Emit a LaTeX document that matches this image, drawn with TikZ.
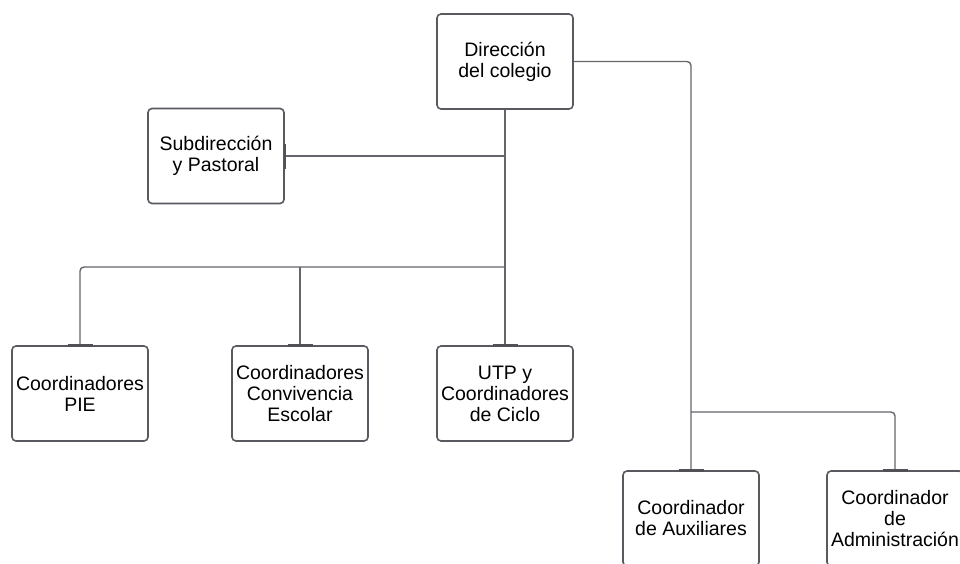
\documentclass[tikz,border=0pt]{standalone}
\usepackage{fontspec}
\setmainfont{Liberation Sans}
\begin{document}
\begin{tikzpicture}[x=1pt,y=-1pt,
  box/.style={draw=boxc, line width=1.6pt, rounded corners=4pt, fill=white,
    minimum width=136pt, minimum height=95pt, inner sep=0pt, align=center,
    font=\fontsize{19.5}{21}\selectfont, text=black},
  conn/.style={draw=linec, line width=1.4pt, rounded corners=4pt},
  endbar/.style={draw=barc, line width=2.6pt}]
\definecolor{boxc}{RGB}{88,90,96}
\definecolor{linec}{RGB}{100,102,108}
\definecolor{barc}{RGB}{80,82,88}
\clip (0,0) rectangle (960,563);
\fill[white] (0,0) rectangle (960,563);

\node[box] (dir) at (505,61.5) {Dirección\\del colegio};
\node[box] (sub) at (216,156) {Subdirección\\y Pastoral};
\node[box] (pie) at (80,393.5) {Coordinadores\\PIE};
\node[box] (conv) at (300,393.5) {Coordinadores\\Convivencia\\Escolar};
\node[box] (utp) at (505,393.5) {UTP y\\Coordinadores\\de Ciclo};
\node[box] (aux) at (691,518.5) {Coordinador\\de Auxiliares};
\node[box] (adm) at (895,518.5) {Coordinador\\de\\Administración};

\coordinate (jsub) at (505,156);
\coordinate (jrow) at (505,267);
\coordinate (jright) at (691,412);

\draw[conn] (dir.south) -- (utp.north);
\draw[conn] (sub.east) -- (jsub);
\draw[conn] (jrow) -| (pie.north);
\draw[conn] (conv.north |- jrow) -- (conv.north);
\draw[conn] (dir.east) -| (aux.north);
\draw[conn] (jright) -| (adm.north);

\foreach \n in {pie,conv,utp,aux,adm}
  \draw[endbar] ([xshift=-12.5pt]\n.north) -- ([xshift=12.5pt]\n.north);
\draw[endbar] ([yshift=-12.5pt]sub.east) -- ([yshift=12.5pt]sub.east);
\end{tikzpicture}
\end{document}
